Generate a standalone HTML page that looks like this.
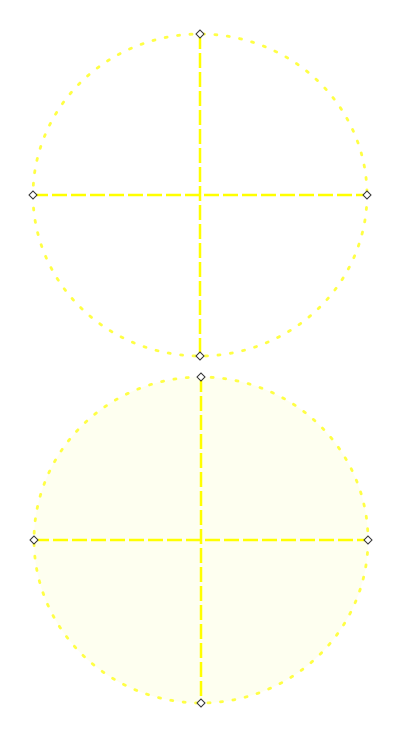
<!DOCTYPE html>
<html><head><meta charset="utf-8"><style>html,body{margin:0;padding:0;background:#fff}svg{display:block}</style></head>
<body>
<svg id="chart" width="404" height="729" xmlns="http://www.w3.org/2000/svg"></svg>
<script>
const shapeNames = ['ellipse-top', 'ellipse-bottom'];
const centerX = [200, 201];
const centerY = [195, 540];
const radiusX = [167, 167];
const radiusY = [161, 163];
const fills = ['none', '#fefff0'];
const NS = 'http://www.w3.org/2000/svg';
const svg = document.getElementById('chart');
function mk(tag, attrs) {
  const e = document.createElementNS(NS, tag);
  for (const k in attrs) e.setAttribute(k, attrs[k]);
  svg.appendChild(e);
  return e;
}
for (let i = 0; i < shapeNames.length; i++) {
  const cx = centerX[i], cy = centerY[i], rx = radiusX[i], ry = radiusY[i];
  const el = mk('ellipse', {cx, cy, rx, ry, fill: fills[i], stroke: '#ffff44', 'stroke-width': 2.8, 'stroke-dasharray': '2 10.5', 'stroke-linecap': 'round'});
  
  
  const h = mk('line', {x1: cx - rx, y1: cy, x2: cx + rx, y2: cy, stroke: '#ffff00', 'stroke-width': 2.5, 'stroke-dasharray': '15 4'});
  
  
  const v = mk('line', {x1: cx, y1: cy - ry, x2: cx, y2: cy + ry, stroke: '#ffff00', 'stroke-width': 2.5, 'stroke-dasharray': '15 4'});
  
  
  const pts = [[cx, cy - ry], [cx, cy + ry], [cx - rx, cy], [cx + rx, cy]];
  const hn = ['top', 'bottom', 'left', 'right'];
  pts.forEach((p, j) => {
    const d = mk('polygon', {points: `${p[0]},${p[1]-4} ${p[0]+4},${p[1]} ${p[0]},${p[1]+4} ${p[0]-4},${p[1]}`, fill: '#fff', stroke: '#333', 'stroke-width': 1});
    
    
  });
}
</script>
</body></html>
